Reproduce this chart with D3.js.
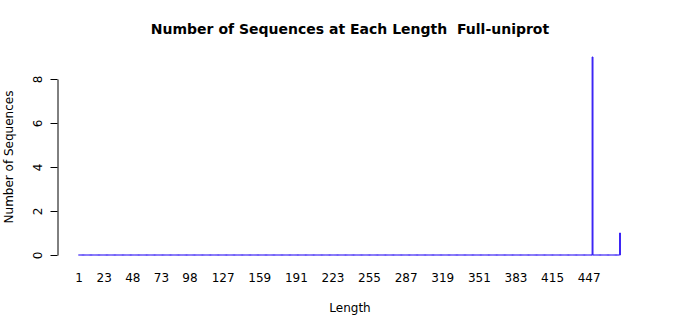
<!DOCTYPE html>
<html>
<head>
<meta charset="utf-8">
<script src="https://cdn.jsdelivr.net/npm/d3@7"></script>
<style>
  body { margin: 0; background: #fff; }
  text { font-family: "DejaVu Sans", sans-serif; }
</style>
</head>
<body>
<div id="chart"></div>
<script>
// observed lengths and how many sequences have them
var maxLength = 474;
var lengths = [450, 474];
var counts = [9, 1];
var xTickLabels = [1, 23, 48, 73, 98, 127, 159, 191, 223, 255, 287, 319, 351, 383, 415, 447];
var yTicks = [0, 2, 4, 6, 8];

var categories = d3.range(1, maxLength + 1);
var data = categories.map(function(c) {
  var i = lengths.indexOf(c);
  return { len: c, n: i < 0 ? 0 : counts[i] };
});

var width = 700, height = 315;
var svg = d3.select("#chart").append("svg")
    .attr("width", width)
    .attr("height", height);

var step = (620 - 79) / (maxLength - 1);
var x = d3.scaleBand()
    .domain(categories)
    .range([79 - step / 2, 620 + step / 2])
    .paddingInner(0.2)
    .paddingOuter(0.1);
var y = d3.scaleLinear().domain([0, 8]).range([255, 79]);

svg.append("text")
    .attr("x", 350)
    .attr("y", 34)
    .attr("text-anchor", "middle")
    .style("font-weight", "bold")
    .style("font-size", "14px")
    .style("white-space", "pre")
    .text("Number of Sequences at Each Length  Full-uniprot");

// bars, drawn as paths so empty lengths still leave a border line
svg.append("g").selectAll("path")
  .data(data)
  .enter().append("path")
    .attr("d", function(d) {
      var x0 = x(d.len), x1 = x0 + x.bandwidth();
      return "M" + x0 + "," + y(0) + "H" + x1 + "V" + y(d.n) + "H" + x0 + "Z";
    })
    .attr("fill", "#3a22f5")
    .attr("stroke", "#3a22f5")
    .attr("stroke-width", 1);

var yAxis = svg.append("g")
    .attr("transform", "translate(57.5,0)")
    .call(d3.axisLeft(y).tickValues(yTicks).tickSize(7).tickSizeOuter(0));
yAxis.selectAll("text")
    .attr("transform", "rotate(-90)")
    .attr("x", 0)
    .attr("y", -20)
    .attr("dy", "0.35em")
    .attr("text-anchor", "middle")
    .style("font-size", "12px")
    .style("font-family", "DejaVu Sans");
yAxis.select(".domain").attr("stroke", "#000");

var xAxis = svg.append("g")
    .attr("transform", "translate(0,270)")
    .call(d3.axisBottom(x).tickValues(xTickLabels).tickSize(0));
xAxis.select(".domain").remove();
xAxis.selectAll("text")
    .attr("dy", "0.71em")
    .style("font-size", "12px")
    .style("font-family", "DejaVu Sans");

svg.append("text")
    .attr("x", 350)
    .attr("y", 312)
    .attr("text-anchor", "middle")
    .style("font-size", "12px")
    .text("Length");

svg.append("text")
    .attr("transform", "translate(13,157) rotate(-90)")
    .attr("text-anchor", "middle")
    .style("font-size", "12px")
    .text("Number of Sequences");
</script>
</body>
</html>
